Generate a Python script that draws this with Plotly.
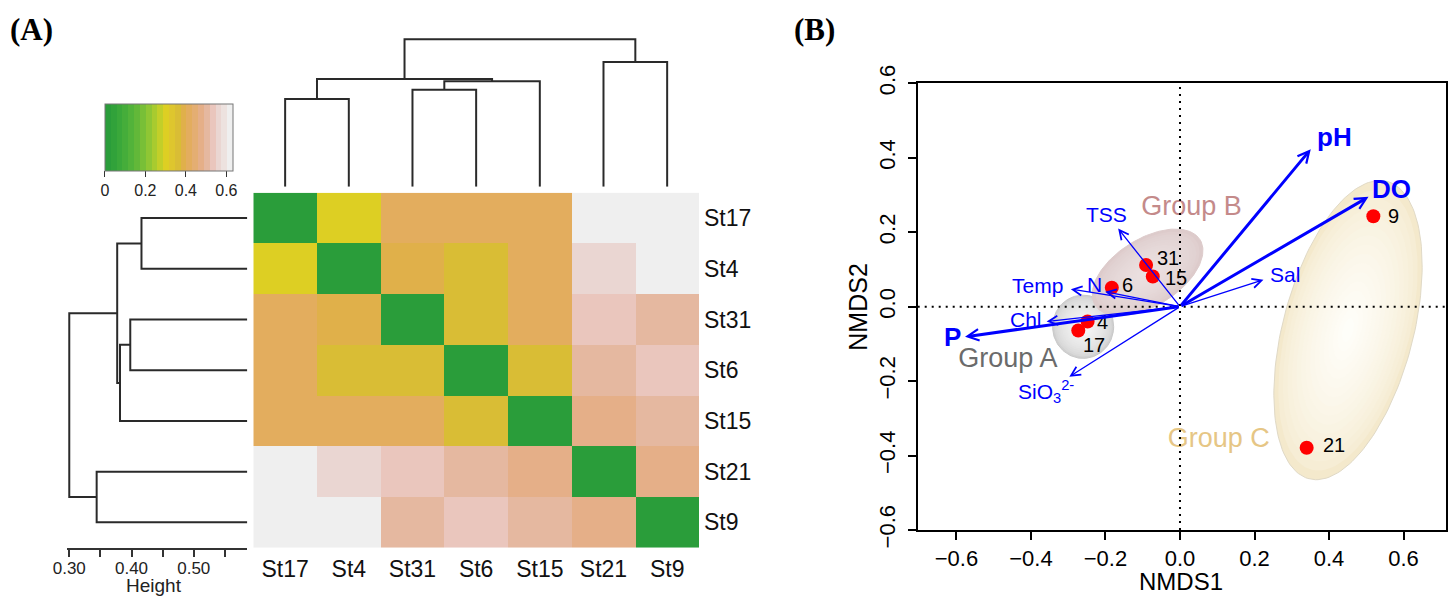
import numpy as np
import plotly.graph_objects as go

W, H = 1450, 596
FONT = "Liberation Sans, Arial, Helvetica, sans-serif"

# ---------------- data: panel A (heatmap + dendrograms) ----------------
stations = ["St17", "St4", "St31", "St6", "St15", "St21", "St9"]
dissim = [
    [0.00, 0.30, 0.42, 0.42, 0.42, 0.62, 0.62],
    [0.30, 0.00, 0.39, 0.36, 0.42, 0.57, 0.62],
    [0.42, 0.39, 0.00, 0.36, 0.42, 0.53, 0.50],
    [0.42, 0.36, 0.36, 0.00, 0.36, 0.50, 0.53],
    [0.42, 0.42, 0.42, 0.36, 0.00, 0.47, 0.50],
    [0.62, 0.57, 0.53, 0.50, 0.47, 0.00, 0.47],
    [0.62, 0.62, 0.50, 0.53, 0.50, 0.47, 0.00],
]
merge_names = ["m1", "m2", "m3", "m4", "m5", "m6"]
merge_left = ["St17", "St31", "m2", "m1", "St21", "m4"]
merge_right = ["St4", "St6", "St15", "m3", "St9", "m5"]
merge_height = [0.416, 0.398, 0.3815, 0.377, 0.344, 0.300]
leaf_height = 0.586
height_ticks = [0.30, 0.40, 0.50]
height_ticktext = ["0.30", "0.40", "0.50"]
height_minor = [0.35, 0.45, 0.55]
key_ticks = [0, 0.2, 0.4, 0.6]
key_ticktext = ["0", "0.2", "0.4", "0.6"]
key_max = 0.632
key_colors = ["#2A9D3A", "#31A23A", "#3AA83A", "#45AD3A", "#52B33A", "#62B839",
              "#78BF37", "#8FC634", "#A8CB2F", "#C2CF29", "#DDCF23", "#DEC62E",
              "#D9BD35", "#E0B04A", "#E3AD5E", "#E4AE72", "#E5AF88", "#E5B8A0",
              "#EAC6BD", "#EAD6D2", "#EDE2DF", "#EFEFEF"]

# ---------------- data: panel B (NMDS) ----------------
site_labels = ["31", "15", "6", "4", "17", "9", "21"]
site_x = [-0.091, -0.073, -0.183, -0.248, -0.273, 0.519, 0.340]
site_y = [0.112, 0.081, 0.051, -0.040, -0.064, 0.243, -0.379]

env_names = ["pH", "DO", "Sal", "TSS", "Temp", "N", "Chl", "P", "SiO3"]
env_labels = ["pH", "DO", "Sal", "TSS", "Temp", "N", "Chl", "P",
              "SiO<sub>3</sub><sup>2-</sup>"]
env_x = [0.351, 0.506, 0.224, -0.166, -0.293, -0.201, -0.358, -0.577, -0.297]
env_y = [0.423, 0.295, 0.072, 0.210, 0.047, 0.040, -0.040, -0.081, -0.188]
env_bold = [True, True, False, False, False, False, False, True, False]

group_names = ["Group A", "Group B", "Group C"]
group_cx = [-0.260, -0.087, 0.451]
group_cy = [-0.054, 0.092, -0.063]
group_a = [0.082, 0.166, 0.413]
group_b = [0.085, 0.090, 0.175]
group_angle = [0, 32, 75.3]
group_label_x = [-0.462, 0.031, 0.104]
group_label_y = [-0.143, 0.265, -0.358]

nmds_ticks = [-0.6, -0.4, -0.2, 0.0, 0.2, 0.4, 0.6]

# ---------------- styles ----------------
group_edge = ["#D0D0D0", "#DDCBCB", "#F4E9CC"]
group_center = ["#FAFAFA", "#ECE2E2", "#FFFFFB"]
group_outline = ["#C8C8C8", "#DDCBCB", "#E0D9C6"]
group_text_color = ["#6B6B6B", "#C48A8A", "#E6C685"]
BLUE = "#0000FF"

# site label offsets (pixels) relative to the points
site_label_shift = {"31": (9, 7), "15": (10, -2), "6": (8, 3), "4": (7, 0),
                    "17": (3, -15), "9": (13, 0), "21": (14, 3)}
env_label_style = {
    "pH": dict(xanchor="left", xshift=4, yshift=12),
    "DO": dict(xanchor="left", xshift=1, yshift=8),
    "Sal": dict(xanchor="left", xshift=5, yshift=5),
    "TSS": dict(xanchor="center", xshift=-12, yshift=14),
    "Temp": dict(xanchor="right", xshift=-6, yshift=4),
    "N": dict(xanchor="center", xshift=-11, yshift=7),
    "Chl": dict(xanchor="right", xshift=-3, yshift=2),
    "P": dict(xanchor="right", xshift=-2, yshift=0),
    "SiO3": dict(xanchor="left", xshift=-53, yshift=-15),
}


def fx(px):
    return px / W


def fy(py):
    return 1 - py / H


def hex2rgb(h):
    h = h.lstrip("#")
    return np.array([int(h[i:i + 2], 16) for i in (0, 2, 4)], dtype=float)


def mix(c1, c2, f):
    c = hex2rgb(c1) * (1 - f) + hex2rgb(c2) * f
    return "rgb(%d,%d,%d)" % tuple(np.round(c).astype(int))


fig = go.Figure()

# ---- colorscale (stepped) ----
n = len(key_colors)
colorscale = []
for k, c in enumerate(key_colors):
    colorscale.append([k / n, c])
    colorscale.append([(k + 1) / n, c])

fig.add_trace(go.Heatmap(
    z=dissim, x=stations, y=stations, colorscale=colorscale, zmin=0, zmax=key_max,
    xaxis="x", yaxis="y", hoverinfo="skip",
    colorbar=dict(orientation="h", x=fx(168.85), xanchor="center",
                  y=fy(104), yanchor="top", len=127.7, lenmode="pixels",
                  thickness=66.7, thicknessmode="pixels", outlinewidth=1,
                  outlinecolor="#777", tickvals=key_ticks, ticktext=key_ticktext,
                  ticks="outside", ticklen=6, tickcolor="#333", tickwidth=1.2,
                  tickfont=dict(size=16, family=FONT, color="#222"), xpad=0, ypad=0),
))

# ---- dendrogram segments computed from merges ----
node_pos = {s: i for i, s in enumerate(stations)}
node_h = {s: leaf_height for s in stations}
seg_p, seg_h = [], []
for name, a, b, h in zip(merge_names, merge_left, merge_right, merge_height):
    pa, pb = node_pos[a], node_pos[b]
    seg_p += [pa, pa, pb, pb, None]
    seg_h += [node_h[a], h, h, node_h[b], None]
    node_pos[name] = (pa + pb) / 2
    node_h[name] = h

fig.add_trace(go.Scatter(x=seg_p, y=seg_h, mode="lines", xaxis="x2", yaxis="y2",
                         line=dict(color="#2A2A2A", width=2), hoverinfo="skip",
                         showlegend=False))
fig.add_trace(go.Scatter(x=seg_h, y=seg_p, mode="lines", xaxis="x3", yaxis="y3",
                         line=dict(color="#2A2A2A", width=2), hoverinfo="skip",
                         showlegend=False))

# ---- NMDS ellipses (layered gradient) ----
t = np.linspace(0, 2 * np.pi, 160)
for g in range(len(group_names)):
    ca, sa = np.cos(np.radians(group_angle[g])), np.sin(np.radians(group_angle[g]))
    layers = np.linspace(1.0, 0.08, 16)
    for i, s in enumerate(layers):
        ex = group_a[g] * s * np.cos(t)
        ey = group_b[g] * s * np.sin(t)
        xs = group_cx[g] + ex * ca - ey * sa
        ys = group_cy[g] + ex * sa + ey * ca
        f = (1 - s) ** 0.6
        col = mix(group_edge[g], group_center[g], f)
        fig.add_trace(go.Scatter(
            x=xs, y=ys, mode="lines", fill="toself", fillcolor=col,
            line=dict(color=group_outline[g] if i == 0 else col, width=1 if i == 0 else 0),
            xaxis="x4", yaxis="y4", hoverinfo="skip", showlegend=False))

# group labels
for g in range(len(group_names)):
    fig.add_trace(go.Scatter(
        x=[group_label_x[g]], y=[group_label_y[g]], mode="text", text=[group_names[g]],
        textfont=dict(size=27, family=FONT, color=group_text_color[g]),
        xaxis="x4", yaxis="y4", hoverinfo="skip", showlegend=False))

# sites
fig.add_trace(go.Scatter(
    x=site_x, y=site_y, mode="markers",
    marker=dict(size=14, color="#FF0000"), xaxis="x4", yaxis="y4",
    hoverinfo="skip", showlegend=False, cliponaxis=False))

# ---- annotations ----
ann = []
for lab, sx, sy in zip(site_labels, site_x, site_y):
    dx, dy = site_label_shift[lab]
    ann.append(dict(x=sx, y=sy, xref="x4", yref="y4", showarrow=False, text=lab,
                    font=dict(size=20, family=FONT, color="black"),
                    xanchor="left", yanchor="middle", xshift=dx, yshift=dy))

for name, lab, ex, ey, bold in zip(env_names, env_labels, env_x, env_y, env_bold):
    ann.append(dict(x=ex, y=ey, ax=0, ay=0, xref="x4", yref="y4", axref="x4", ayref="y4",
                    text="", showarrow=True, arrowhead=5,
                    arrowwidth=3 if bold else 1.3, arrowsize=0.75 if bold else 1.4,
                    arrowcolor=BLUE, standoff=0, startstandoff=0))
    st = env_label_style[name]
    ann.append(dict(x=ex, y=ey, xref="x4", yref="y4", showarrow=False,
                    text=("<b>%s</b>" % lab) if bold else lab,
                    font=dict(size=26 if bold else 21, family=FONT, color=BLUE),
                    xanchor=st["xanchor"], yanchor="middle",
                    xshift=st["xshift"], yshift=st["yshift"]))

ann.append(dict(x=fx(1181), y=fy(581.5), xref="paper", yref="paper", text="NMDS1",
                showarrow=False, font=dict(size=24, family=FONT, color="black"),
                xanchor="center", yanchor="middle"))
ann.append(dict(x=fx(858), y=fy(306.7), xref="paper", yref="paper", text="NMDS2",
                showarrow=False, textangle=-90, font=dict(size=25, family=FONT, color="black"),
                xanchor="center", yanchor="middle"))
ann.append(dict(x=fx(154), y=fy(585), xref="paper", yref="paper", text="Height",
                showarrow=False, font=dict(size=19, family=FONT, color="#222"),
                xanchor="center", yanchor="middle"))
ann.append(dict(x=fx(31), y=fy(30), xref="paper", yref="paper", text="<b>(A)</b>",
                showarrow=False, font=dict(size=31, family="Liberation Serif, Times New Roman, serif",
                                           color="black"),
                xanchor="center", yanchor="middle"))
ann.append(dict(x=fx(814), y=fy(30), xref="paper", yref="paper", text="<b>(B)</b>",
                showarrow=False, font=dict(size=31, family="Liberation Serif, Times New Roman, serif",
                                           color="black"),
                xanchor="center", yanchor="middle"))

# zero lines
shapes = [
    dict(type="line", xref="x4", yref="y4", x0=0, x1=0, y0=-0.6, y1=0.6,
         line=dict(color="black", width=2, dash="2px,5px"), layer="above"),
    dict(type="line", xref="x4", yref="y4", x0=-0.704, x1=0.714, y0=0, y1=0,
         line=dict(color="black", width=2, dash="2px,5px"), layer="above"),
]

hidden = dict(visible=False, showgrid=False, zeroline=False, automargin=False)

fig.update_layout(
    template="none",
    width=W, height=H, autosize=False,
    margin=dict(l=0, r=0, t=0, b=0, pad=0),
    paper_bgcolor="white", plot_bgcolor="white",
    showlegend=False, annotations=ann, shapes=shapes,
    font=dict(family=FONT, color="black"),
    xaxis=dict(domain=[fx(253.3), fx(699)], anchor="y", showgrid=False, zeroline=False,
               automargin=False, ticks="", ticklen=0, ticklabelstandoff=5,
               tickfont=dict(size=23, family=FONT, color="#111"), showline=False),
    yaxis=dict(domain=[fy(547.7), fy(192.7)], anchor="x", side="right",
               autorange="reversed", showgrid=False, zeroline=False, automargin=False,
               ticks="", ticklen=0, ticklabelstandoff=4,
               tickfont=dict(size=23, family=FONT, color="#111"), showline=False),
    xaxis2=dict(domain=[fx(253.3), fx(699)], anchor="y2", range=[-0.5, 6.5], **hidden),
    yaxis2=dict(domain=[fy(186.7), fy(34.15)], anchor="x2", range=[leaf_height, 0.29], **hidden),
    xaxis3=dict(domain=[fx(67.4), fx(247.3)], anchor="y3", range=[0.297, leaf_height],
                showgrid=False, zeroline=False, showline=True, linecolor="#333", linewidth=1.5,
                automargin=False, ticks="outside", tickvals=height_ticks, ticktext=height_ticktext,
                ticklen=8, tickwidth=1.5, tickcolor="#333", ticklabelstandoff=-4,
                minor=dict(tickvals=height_minor, ticks="outside", ticklen=8, tickwidth=1.5,
                           tickcolor="#333", showgrid=False),
                tickfont=dict(size=17, family=FONT, color="#222")),
    yaxis3=dict(domain=[fy(547.7), fy(192.7)], anchor="x3", range=[6.5, -0.5], **hidden),
    xaxis4=dict(domain=[fx(917.7), fx(1446)], anchor="y4", range=[-0.704, 0.714],
                showgrid=False, zeroline=False, showline=True, mirror=True, automargin=False,
                linecolor="black", linewidth=2, ticks="outside", ticklen=8, tickwidth=1.5,
                tickcolor="black", tickvals=nmds_ticks, tickformat=".1f",
                tickfont=dict(size=22, family=FONT, color="black")),
    yaxis4=dict(domain=[fy(530), fy(83.3)], anchor="x4", range=[-0.6, 0.6],
                showgrid=False, zeroline=False, showline=True, mirror=True, automargin=False,
                linecolor="black", linewidth=2, ticks="outside", ticklen=8, tickwidth=1.5,
                tickcolor="black", tickvals=nmds_ticks, tickformat=".1f", tickangle=-90,
                ticklabelstandoff=4,
                tickfont=dict(size=22, family=FONT, color="black")),
)

fig.write_html("out.html", config={"displayModeBar": False},
               post_script="document.body.style.margin='0px';document.body.style.overflow='hidden';")
